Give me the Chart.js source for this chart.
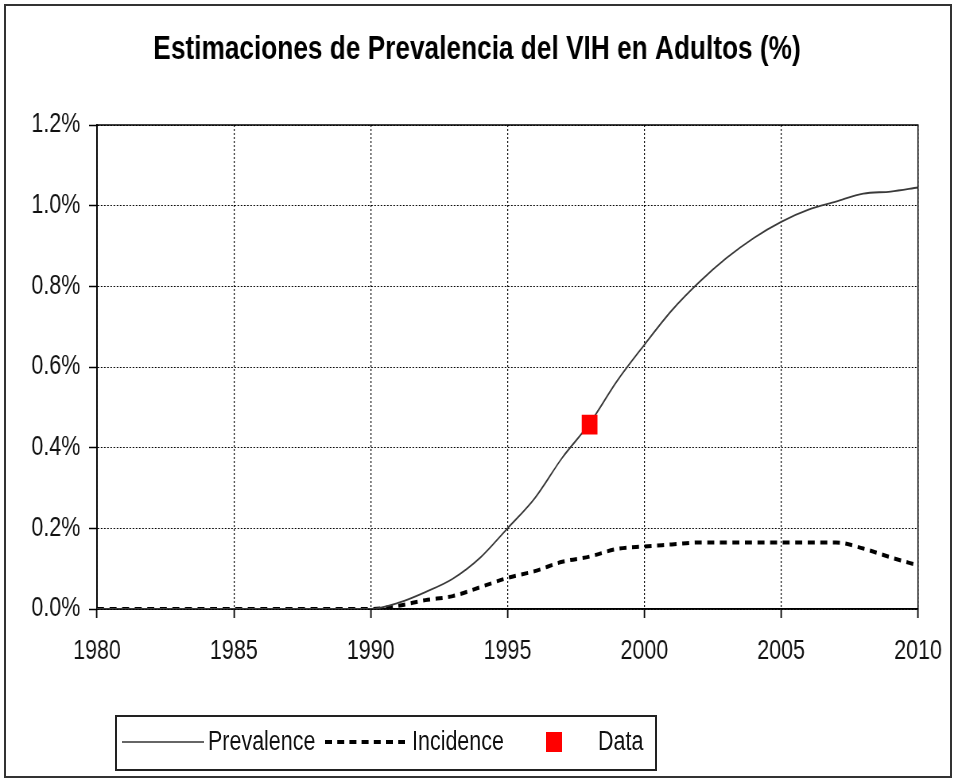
<!DOCTYPE html>
<html>
<head>
<meta charset="utf-8">
<title>Estimaciones de Prevalencia del VIH en Adultos (%)</title>
<script src="https://cdn.jsdelivr.net/npm/chart.js@4/dist/chart.umd.min.js"></script>
<style>
  html, body { margin: 0; padding: 0; background: #fff; }
  #page { position: relative; width: 954px; height: 779px; overflow: hidden; }
  /* the original picture is horizontally condensed, so draw wider and squeeze */
  #squeeze { position: absolute; left: 0; top: 0; width: 1200px; height: 779px;
             transform: scaleX(0.795); transform-origin: 0 0; }
  #frame {
    position: absolute; left: 4px; top: 4px; width: 948px; height: 774px;
    box-sizing: border-box; border: 2px solid #333; pointer-events: none;
  }
  #legendBox {
    position: absolute; left: 115px; top: 715px; width: 542px; height: 56px;
    box-sizing: border-box; border: 2px solid #222;
  }
  .lbl {
    position: absolute; top: 726px; height: 30px; line-height: 30px; white-space: nowrap;
    font-family: 'Liberation Sans', Arial, sans-serif; font-size: 27px; color: #111;
    transform: scaleX(0.795); transform-origin: 0 50%;
  }
  .sample { position: absolute; }
</style>
</head>
<body>
<div id="page">
  <div id="squeeze"><canvas id="chart" width="1200" height="779"></canvas></div>
  <div id="frame"></div>
  <div id="legendBox"></div>
  <svg class="sample" style="left:122px;top:740px" width="82" height="4"><line x1="0" y1="2" x2="82" y2="2" stroke="#333" stroke-width="1.6"/></svg>
  <span class="lbl" style="left:208px">Prevalence</span>
  <svg class="sample" style="left:325px;top:739px" width="80" height="6"><line x1="0" y1="3" x2="80" y2="3" stroke="#000" stroke-width="4" stroke-dasharray="7,5.2"/></svg>
  <span class="lbl" style="left:412px">Incidence</span>
  <svg class="sample" style="left:546px;top:732px" width="16" height="20"><rect x="0" y="0" width="16" height="20" fill="#ff0000"/></svg>
  <span class="lbl" style="left:598px">Data</span>
</div>
<script>
// years on the x axis
const years = [1980, 1981, 1982, 1983, 1984, 1985, 1986, 1987, 1988, 1989,
               1990, 1991, 1992, 1993, 1994, 1995, 1996, 1997, 1998, 1999,
               2000, 2001, 2002, 2003, 2004, 2005, 2006, 2007, 2008, 2009, 2010];

// adult prevalence (%)
const prevalence = [0, 0, 0, 0, 0, 0, 0, 0, 0, 0,
                    0, 0.015, 0.042, 0.075, 0.127, 0.20, 0.275, 0.375, 0.46, 0.565,
                    0.655, 0.74, 0.81, 0.87, 0.92, 0.96, 0.99, 1.01, 1.03, 1.035, 1.045];

// incidence (%)
const incidence = [0, 0, 0, 0, 0, 0, 0, 0, 0, 0,
                   0, 0.008, 0.022, 0.032, 0.054, 0.077, 0.094, 0.117, 0.13, 0.149,
                   0.155, 0.16, 0.165, 0.165, 0.165, 0.165, 0.165, 0.165, 0.15, 0.128, 0.108];

// surveillance data point
const dataYears = [1998];
const dataValues = [0.457];

const yTicks = [0, 0.2, 0.4, 0.6, 0.8, 1.0, 1.2];

const FONT = "'Liberation Sans', Arial, sans-serif";
const SX = 0.795; // horizontal squeeze of the canvas

const toPoints = (xs, ys) => xs.map((x, i) => ({ x: x, y: ys[i] }));

// solid frame around the plot area, title centred on the whole canvas
const plotFrame = {
    id: 'plotFrame',
    afterLayout(chart) {
        if (chart.titleBlock) {
            chart.titleBlock.left = 0;
            chart.titleBlock.right = chart.width;
        }
    },
    beforeDatasetsDraw(chart) {
        const a = chart.chartArea;
        const ctx = chart.ctx;
        ctx.save();
        ctx.strokeStyle = '#000';
        ctx.lineWidth = 1.5;
        ctx.setLineDash([]);
        ctx.strokeRect(a.left, a.top, a.right - a.left, a.bottom - a.top);
        ctx.restore();
    }
};

const ctx = document.getElementById('chart').getContext('2d');

new Chart(ctx, {
    type: 'line',
    data: {
        datasets: [
            {
                label: 'Data',
                data: toPoints(dataYears, dataValues),
                showLine: false,
                pointStyle: 'rect',
                pointRadius: 14,
                pointBackgroundColor: '#ff0000',
                pointBorderWidth: 0,
                pointBorderColor: '#ff0000',
                order: 0
            },
            {
                label: 'Prevalence',
                data: toPoints(years, prevalence),
                borderColor: '#3a3a3a',
                borderWidth: 1.8,
                pointRadius: 0,
                cubicInterpolationMode: 'monotone',
                order: 1
            },
            {
                label: 'Incidence',
                data: toPoints(years, incidence),
                borderColor: '#000',
                borderWidth: 4,
                borderDash: [8.8, 7],
                pointRadius: 0,
                cubicInterpolationMode: 'monotone',
                order: 2
            }
        ]
    },
    options: {
        responsive: false,
        animation: false,
        layout: { padding: { left: 0, right: 1200 - 918 / SX, top: 0, bottom: 0 } },
        plugins: {
            legend: { display: false },
            tooltip: { enabled: false },
            title: {
                display: true,
                text: 'Estimaciones de Prevalencia del VIH en Adultos (%)',
                color: '#000',
                font: { family: FONT, size: 33, weight: 'bold', lineHeight: 1.2 },
                padding: { top: 30, bottom: 55.4 }
            }
        },
        scales: {
            x: {
                type: 'linear',
                min: 1980,
                max: 2010,
                afterFit(scale) {
                    scale.height = 170;
                    scale.paddingLeft = 0;
                    scale.paddingRight = 0;
                },
                ticks: {
                    stepSize: 5,
                    color: '#111',
                    padding: 17,
                    font: { family: FONT, size: 27 },
                    callback: v => String(v)
                },
                grid: {
                    color: '#000',
                    lineWidth: 1.2,
                    tickLength: 9,
                    tickBorderDash: [],
                    tickWidth: 1.8
                },
                border: { display: true, color: '#000', width: 1.5, dash: [2, 2] }
            },
            y: {
                min: 0,
                max: 1.2,
                afterFit(scale) {
                    scale.width = 97 / SX;
                    scale.paddingTop = 0;
                    scale.paddingBottom = 0;
                },
                afterBuildTicks(scale) { scale.ticks = yTicks.map(v => ({ value: v })); },
                ticks: {
                    color: '#111',
                    padding: 11,
                    font: { family: FONT, size: 27 },
                    callback: v => v.toFixed(1) + '%'
                },
                grid: {
                    color: '#000',
                    lineWidth: 1,
                    tickLength: 10,
                    tickBorderDash: [],
                    tickWidth: 1.5
                },
                border: { display: true, color: '#000', width: 1.8, dash: [2, 2] }
            }
        }
    },
    plugins: [plotFrame]
});
</script>
</body>
</html>
